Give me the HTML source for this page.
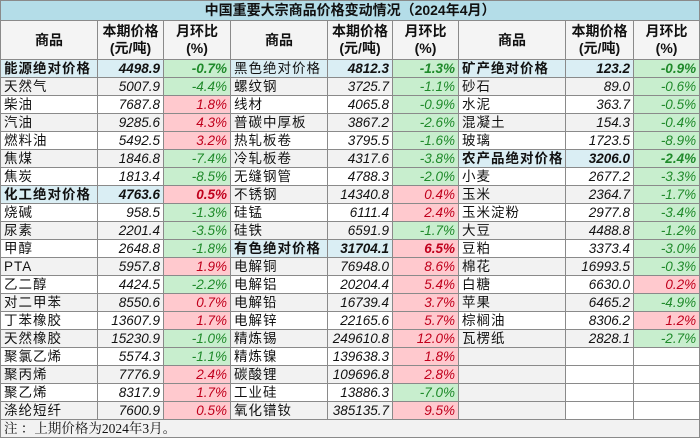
<!DOCTYPE html><html><head><meta charset="utf-8"><style>
body{margin:0;width:700px;height:442px;background:#fff;overflow:hidden;font-family:"Liberation Sans","Noto Sans CJK SC",sans-serif}
table{position:absolute;left:0;top:0;border-collapse:collapse;table-layout:fixed;width:699px}
td{border:1px solid #8a8a8a;padding:0 3px;font-size:13.5px;height:17px;line-height:17px;white-space:nowrap;overflow:hidden;color:#111}
.t{background:#b4dde8;text-align:center;font-weight:bold;height:19px;font-size:14px}
.h td{background:#f4f4f4;text-align:center;font-weight:bold;height:38px;line-height:17px;font-size:14px}
.n{text-align:left;letter-spacing:1px}
.p{text-align:right;font-style:italic}
.g{background:#c8eece;color:#1f8a2a;text-align:right;font-style:italic}
.r{background:#ffc9ce;color:#c0001c;text-align:right;font-style:italic}
tr.z td.n,tr.z td.p{background:#f2f2f2}
td.a,tr.z td.a{background:#daeef4;font-weight:bold}
td.a.g,tr.z td.a.g{background:#c8eece}
td.a.r,tr.z td.a.r{background:#ffc9ce}
.note{background:#f2f2f2;text-align:left;font-family:"Liberation Serif","Noto Serif CJK SC",serif;height:17px}
</style></head><body>
<table>
<colgroup><col style="width:97px"><col style="width:66px"><col style="width:67px"><col style="width:97px"><col style="width:65px"><col style="width:66px"><col style="width:107px"><col style="width:68px"><col style="width:66px"></colgroup>
<tr><td class="t" colspan="9">中国重要大宗商品价格变动情况（2024年4月）</td></tr>
<tr class="h"><td>商品</td><td>本期价格<br>(元/吨)</td><td>月环比<br>(%)</td><td>商品</td><td>本期价格<br>(元/吨)</td><td>月环比<br>(%)</td><td>商品</td><td>本期价格<br>(元/吨)</td><td>月环比<br>(%)</td></tr>
<tr><td class="n a">能源绝对价格</td><td class="p a">4498.9</td><td class="g a">-0.7%</td><td class="n a" style="font-weight:normal">黑色绝对价格</td><td class="p a">4812.3</td><td class="g a">-1.3%</td><td class="n a">矿产绝对价格</td><td class="p a">123.2</td><td class="g a">-0.9%</td></tr>
<tr class="z"><td class="n">天然气</td><td class="p">5007.9</td><td class="g">-4.4%</td><td class="n">螺纹钢</td><td class="p">3725.7</td><td class="g">-1.1%</td><td class="n">砂石</td><td class="p">89.0</td><td class="g">-0.6%</td></tr>
<tr><td class="n">柴油</td><td class="p">7687.8</td><td class="r">1.8%</td><td class="n">线材</td><td class="p">4065.8</td><td class="g">-0.9%</td><td class="n">水泥</td><td class="p">363.7</td><td class="g">-0.5%</td></tr>
<tr class="z"><td class="n">汽油</td><td class="p">9285.6</td><td class="r">4.3%</td><td class="n">普碳中厚板</td><td class="p">3867.2</td><td class="g">-2.6%</td><td class="n">混凝土</td><td class="p">154.3</td><td class="g">-0.4%</td></tr>
<tr><td class="n">燃料油</td><td class="p">5492.5</td><td class="r">3.2%</td><td class="n">热轧板卷</td><td class="p">3795.5</td><td class="g">-1.6%</td><td class="n">玻璃</td><td class="p">1723.5</td><td class="g">-8.9%</td></tr>
<tr class="z"><td class="n">焦煤</td><td class="p">1846.8</td><td class="g">-7.4%</td><td class="n">冷轧板卷</td><td class="p">4317.6</td><td class="g">-3.8%</td><td class="n a">农产品绝对价格</td><td class="p a">3206.0</td><td class="g a">-2.4%</td></tr>
<tr><td class="n">焦炭</td><td class="p">1813.4</td><td class="g">-8.5%</td><td class="n">无缝钢管</td><td class="p">4788.3</td><td class="g">-2.0%</td><td class="n">小麦</td><td class="p">2677.2</td><td class="g">-3.3%</td></tr>
<tr class="z"><td class="n a">化工绝对价格</td><td class="p a">4763.6</td><td class="r a">0.5%</td><td class="n">不锈钢</td><td class="p">14340.8</td><td class="r">0.4%</td><td class="n">玉米</td><td class="p">2364.7</td><td class="g">-1.7%</td></tr>
<tr><td class="n">烧碱</td><td class="p">958.5</td><td class="g">-1.3%</td><td class="n">硅锰</td><td class="p">6111.4</td><td class="r">2.4%</td><td class="n">玉米淀粉</td><td class="p">2977.8</td><td class="g">-3.4%</td></tr>
<tr class="z"><td class="n">尿素</td><td class="p">2201.4</td><td class="g">-3.5%</td><td class="n">硅铁</td><td class="p">6591.9</td><td class="g">-1.7%</td><td class="n">大豆</td><td class="p">4488.8</td><td class="g">-1.2%</td></tr>
<tr><td class="n">甲醇</td><td class="p">2648.8</td><td class="g">-1.8%</td><td class="n a">有色绝对价格</td><td class="p a">31704.1</td><td class="r a">6.5%</td><td class="n">豆粕</td><td class="p">3373.4</td><td class="g">-3.0%</td></tr>
<tr class="z"><td class="n">PTA</td><td class="p">5957.8</td><td class="r">1.9%</td><td class="n">电解铜</td><td class="p">76948.0</td><td class="r">8.6%</td><td class="n">棉花</td><td class="p">16993.5</td><td class="g">-0.3%</td></tr>
<tr><td class="n">乙二醇</td><td class="p">4424.5</td><td class="g">-2.2%</td><td class="n">电解铝</td><td class="p">20204.4</td><td class="r">5.4%</td><td class="n">白糖</td><td class="p">6630.0</td><td class="r">0.2%</td></tr>
<tr class="z"><td class="n">对二甲苯</td><td class="p">8550.6</td><td class="r">0.7%</td><td class="n">电解铅</td><td class="p">16739.4</td><td class="r">3.7%</td><td class="n">苹果</td><td class="p">6465.2</td><td class="g">-4.9%</td></tr>
<tr><td class="n">丁苯橡胶</td><td class="p">13607.9</td><td class="r">1.7%</td><td class="n">电解锌</td><td class="p">22165.6</td><td class="r">5.7%</td><td class="n">棕榈油</td><td class="p">8306.2</td><td class="r">1.2%</td></tr>
<tr class="z"><td class="n">天然橡胶</td><td class="p">15230.9</td><td class="g">-1.0%</td><td class="n">精炼锡</td><td class="p">249610.8</td><td class="r">12.0%</td><td class="n">瓦楞纸</td><td class="p">2828.1</td><td class="g">-2.7%</td></tr>
<tr><td class="n">聚氯乙烯</td><td class="p">5574.3</td><td class="g">-1.1%</td><td class="n">精炼镍</td><td class="p">139638.3</td><td class="r">1.8%</td><td class="n" style="background:#f2f2f2"></td><td></td><td></td></tr>
<tr class="z"><td class="n">聚丙烯</td><td class="p">7776.9</td><td class="r">2.4%</td><td class="n">碳酸锂</td><td class="p">109696.8</td><td class="r">2.8%</td><td class="n"></td><td></td><td></td></tr>
<tr><td class="n">聚乙烯</td><td class="p">8317.9</td><td class="r">1.7%</td><td class="n">工业硅</td><td class="p">13886.3</td><td class="g">-7.0%</td><td class="n" style="background:#f2f2f2"></td><td></td><td></td></tr>
<tr class="z"><td class="n">涤纶短纤</td><td class="p">7600.9</td><td class="r">0.5%</td><td class="n">氧化镨钕</td><td class="p">385135.7</td><td class="r">9.5%</td><td class="n"></td><td></td><td></td></tr>
<tr><td class="note" colspan="9">注 ：上期价格为2024年3月。</td></tr>
</table>
</body></html>
